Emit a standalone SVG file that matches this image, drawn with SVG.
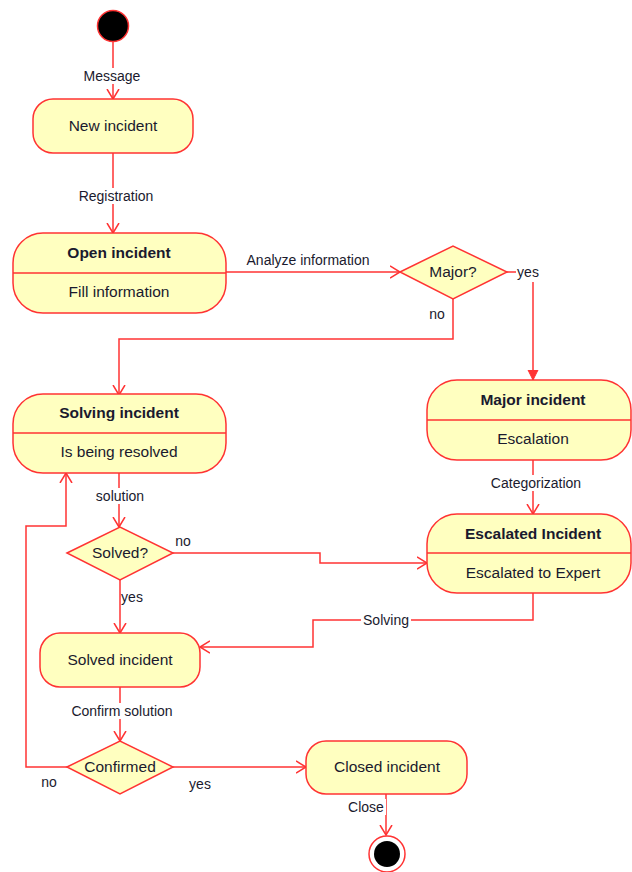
<svg xmlns="http://www.w3.org/2000/svg" width="632" height="872" viewBox="0 0 632 872">
<style>
.n{fill:#ffffc0;stroke:#ff3333;stroke-width:1.5}
.d{stroke:#ff3333;stroke-width:1.5}
.c{fill:none;stroke:#ff3333;stroke-width:1.5}
.t{font-family:"Liberation Sans",Arial,sans-serif;font-size:15.5px;fill:#1a1a2e;text-anchor:middle}
.b{font-weight:bold}
.l{font-family:"Liberation Sans",Arial,sans-serif;font-size:14px;fill:#1a1a2e;text-anchor:middle}
</style>
<defs>
<marker id="a" markerWidth="12" markerHeight="14" refX="10" refY="7" orient="auto" markerUnits="userSpaceOnUse">
<path d="M0,1 L10,7 L0,13" fill="none" stroke="#ff3333" stroke-width="1.5"/>
</marker>
<marker id="f" markerWidth="12" markerHeight="12" refX="10" refY="6" orient="auto" markerUnits="userSpaceOnUse">
<path d="M0,1 L10,6 L0,11 Z" fill="#ff3333" stroke="#ff3333" stroke-width="1"/>
</marker>
</defs>
<rect width="632" height="872" fill="#ffffff"/>
<g id="connectors">
<path class="c" d="M113,42 L113,99" marker-end="url(#a)"/>
<path class="c" d="M113,153 L113,233" marker-end="url(#a)"/>
<path class="c" d="M226,272 L400,272" marker-end="url(#a)"/>
<path class="c" d="M507,272 L516,272"/>
<path class="c" d="M533,282 L533,380" marker-end="url(#f)"/>
<path class="c" d="M453,299 L453,339 L119,339 L119,395" marker-end="url(#a)"/>
<path class="c" d="M119,473 L119,527" marker-end="url(#a)"/>
<path class="c" d="M173,553 L320,553 L320,563 L427,563" marker-end="url(#a)"/>
<path class="c" d="M120,580 L120,633" marker-end="url(#a)"/>
<path class="c" d="M533,460 L533,514" marker-end="url(#a)"/>
<path class="c" d="M533,593 L533,620 L313,620 L313,647 L200,647" marker-end="url(#a)"/>
<path class="c" d="M120,687 L120,741" marker-end="url(#a)"/>
<path class="c" d="M67,767 L26,767 L26,526 L66,526 L66,473" marker-end="url(#a)"/>
<path class="c" d="M173,767 L306,767" marker-end="url(#a)"/>
<path class="c" d="M386,794 L386,835" marker-end="url(#a)"/>
<rect x="81" y="68" width="62" height="16" fill="#fff"/>
<text class="l" x="112" y="81">Message</text>
<rect x="74" y="188" width="84" height="16" fill="#fff"/>
<text class="l" x="116" y="201">Registration</text>
<text class="l" x="308" y="265">Analyze information</text>
<text class="l" x="528" y="277">yes</text>
<text class="l" x="437" y="319">no</text>
<rect x="92" y="488" width="56" height="16" fill="#fff"/>
<text class="l" x="120" y="501">solution</text>
<text class="l" x="183" y="546">no</text>
<text class="l" x="132" y="602">yes</text>
<rect x="485" y="475" width="102" height="16" fill="#fff"/>
<text class="l" x="536" y="488">Categorization</text>
<rect x="361" y="612" width="50" height="16" fill="#fff"/>
<text class="l" x="386" y="625">Solving</text>
<rect x="66" y="703" width="112" height="16" fill="#fff"/>
<text class="l" x="122" y="716">Confirm solution</text>
<text class="l" x="49" y="787">no</text>
<text class="l" x="200" y="789">yes</text>
<rect x="346" y="799" width="40" height="16" fill="#fff"/>
<text class="l" x="366" y="812">Close</text>
</g>
<g id="start"><circle cx="113" cy="26" r="15.5" fill="#000" stroke="#ff3333" stroke-width="1.5"/></g>
<g id="new-incident"><rect class="n" x="33" y="99" width="160" height="54" rx="20"/><text class="t" x="113" y="131">New incident</text></g>
<g id="open-incident"><rect class="n" x="13" y="233" width="213" height="80" rx="30"/><line class="d" x1="13" y1="273" x2="226" y2="273"/><text class="t b" x="119" y="258">Open incident</text><text class="t" x="119" y="297">Fill information</text></g>
<g id="major-decision"><polygon class="n" points="400,272 453,246 507,272 453,299"/><text class="t" x="453" y="277">Major?</text></g>
<g id="major-incident"><rect class="n" x="427" y="380" width="204" height="80" rx="30"/><line class="d" x1="427" y1="420" x2="631" y2="420"/><text class="t b" x="533" y="405">Major incident</text><text class="t" x="533" y="444">Escalation</text></g>
<g id="solving-incident"><rect class="n" x="13" y="394" width="213" height="79" rx="30"/><line class="d" x1="13" y1="433" x2="226" y2="433"/><text class="t b" x="119" y="418">Solving incident</text><text class="t" x="119" y="457">Is being resolved</text></g>
<g id="escalated-incident"><rect class="n" x="427" y="514" width="204" height="79" rx="30"/><line class="d" x1="427" y1="553" x2="631" y2="553"/><text class="t b" x="533" y="539">Escalated Incident</text><text class="t" x="533" y="578">Escalated to Expert</text></g>
<g id="solved-decision"><polygon class="n" points="67,553 120,527 173,553 120,580"/><text class="t" x="120" y="558">Solved?</text></g>
<g id="solved-incident"><rect class="n" x="40" y="633" width="160" height="54" rx="20"/><text class="t" x="120" y="665">Solved incident</text></g>
<g id="confirmed-decision"><polygon class="n" points="67,767 120,741 173,767 120,794"/><text class="t" x="120" y="772">Confirmed</text></g>
<g id="closed-incident"><rect class="n" x="306" y="741" width="161" height="53" rx="20"/><text class="t" x="387" y="772">Closed incident</text></g>
<g id="end"><circle cx="387" cy="854" r="18" fill="#fff" stroke="#ff3333" stroke-width="1.5"/><circle cx="387" cy="854" r="13" fill="#000"/></g>
</svg>
